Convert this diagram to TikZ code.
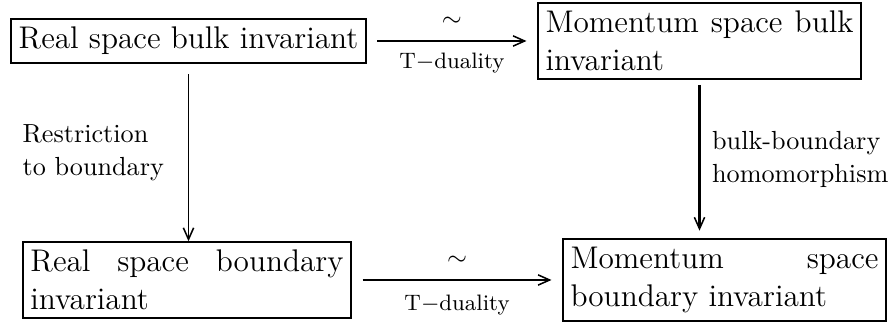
\documentclass[tikz,border=0pt]{standalone}
\usetikzlibrary{positioning,arrows.meta}
\tikzset{
  invbox/.style={draw, line width=0.8pt, inner sep=3pt, font=\fontsize{12.2}{14.8}\selectfont},
  twoline/.style={invbox, text width=120pt, align=justify},
  tip/.style={-{Straight Barb[length=4.5pt, width=4pt, line width=0.6pt]}},
  duality/.style={tip, line width=0.7pt, shorten <=4pt, shorten >=4pt},
  maplabel/.style={align=left, font=\fontsize{10.2}{12.9}\selectfont},
  smalllabel/.style={font=\fontsize{8.7}{10}\selectfont},
}
\begin{document}
\begin{tikzpicture}[x=0.3896pt,y=-0.3896pt]
  \useasboundingbox (0,0) rectangle (896,327);

  % the four invariants
  \node[invbox, minimum height=17pt] (realbulk) at (188.5,41) {Real space bulk invariant};
  \node[twoline] (mombulk) at (699.5,41) {Momentum space bulk invariant};
  \node[twoline, text width=122pt] (realbdy) at (187,280) {Real space boundary invariant};
  \node[twoline] (mombdy) at (724.5,280) {Momentum space boundary invariant};

  % T-duality isomorphisms
  \draw[duality] (realbulk) -- node[above=2pt] {$\sim$} node[below=1pt, smalllabel] {T$-$duality} (mombulk);
  \draw[duality] (realbdy) -- node[above=2pt] {$\sim$} node[below=2pt, smalllabel] {T$-$duality} (mombdy);

  % vertical maps
  \draw[tip, line width=0.5pt, shorten <=4pt] (realbulk.south) -- (realbulk.south |- realbdy.north)
    node[midway, maplabel, left=6pt] {Restriction\\to boundary};
  \draw[tip, line width=1.2pt, shorten <=2pt, shorten >=3pt] (mombulk.south) -- (mombulk.south |- mombdy.north)
    node[midway, maplabel, right=1pt] {bulk-boundary\\homomorphism};
\end{tikzpicture}
\end{document}
